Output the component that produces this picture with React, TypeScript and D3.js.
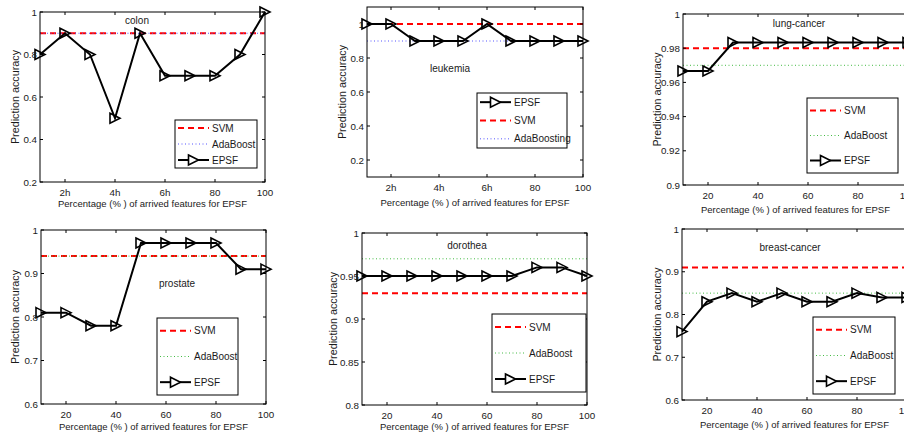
import * as d3 from "d3";

// percentage of arrived features (x positions of the EPSF points)
const xPct = [10, 20, 30, 40, 50, 60, 70, 80, 90, 100];
const xTicks = [20, 40, 60, 80, 100];
const xTickLabelsH = ["2h", "4h", "6h", "80", "100"];
const xTickLabelsN = ["20", "40", "60", "80", "100"];

const colonEPSF = [0.8, 0.9, 0.8, 0.5, 0.9, 0.7, 0.7, 0.7, 0.8, 1.0];
const leukemiaEPSF = [1.0, 1.0, 0.9, 0.9, 0.9, 1.0, 0.9, 0.9, 0.9, 0.9];
const lungEPSF = [0.9667, 0.9667, 0.9833, 0.9833, 0.9833, 0.9833, 0.9833, 0.9833, 0.9833, 0.9833];
const prostateEPSF = [0.81, 0.81, 0.78, 0.78, 0.97, 0.97, 0.97, 0.97, 0.91, 0.91];
const dorotheaEPSF = [0.95, 0.95, 0.95, 0.95, 0.95, 0.95, 0.95, 0.96, 0.96, 0.95];
const breastEPSF = [0.76, 0.83, 0.85, 0.83, 0.85, 0.83, 0.83, 0.85, 0.84, 0.84];

// colon, leukemia, lung-cancer, prostate, dorothea, breast-cancer
const svmAcc = [0.9, 1.0, 0.98, 0.94, 0.93, 0.91];
const adaAcc = [0.9, 0.9, 0.97, 0.94, 0.97, 0.85];

const yTicksColon = [0.2, 0.4, 0.6, 0.8, 1];
const yTicksLeukemia = [0.2, 0.4, 0.6, 0.8, 1];
const yTicksLung = [0.9, 0.92, 0.94, 0.96, 0.98, 1];
const yTicksProstate = [0.6, 0.7, 0.8, 0.9, 1];
const yTicksDorothea = [0.8, 0.85, 0.9, 0.95, 1];
const yTicksBreast = [0.6, 0.7, 0.8, 0.9, 1];

const FONT = "'Liberation Sans', Arial, sans-serif";
const FS = 9.8;
const RED = "#ff0000";
const BLUE = "#5555ff";
const GREEN = "#44bb44";

const panels = [
  {
    name: "colon", epsf: colonEPSF, svm: svmAcc[0], ada: adaAcc[0], adaColor: BLUE, adaLabel: "AdaBoost",
    yDomain: [0.2, 1], yTicks: yTicksColon, xLabels: xTickLabelsH,
    l: 40, t: 12, r: 265, b: 182, title: [137, 24],
    legend: { x: 175, y: 120, w: 82, h: 48, order: ["svm", "ada", "epsf"] },
    ylabX: 19, xlabY: 207,
  },
  {
    name: "leukemia", epsf: leukemiaEPSF, svm: svmAcc[1], ada: adaAcc[1], adaColor: BLUE, adaLabel: "AdaBoosting",
    yDomain: [0.1, 1.1], yTicks: yTicksLeukemia, xLabels: xTickLabelsH,
    l: 367, t: 7, r: 583, b: 177, title: [450, 72],
    legend: { x: 477, y: 93, w: 90, h: 55, order: ["epsf", "svm", "ada"] },
    ylabX: 346, xlabY: 206,
  },
  {
    name: "lung-cancer", epsf: lungEPSF, svm: svmAcc[2], ada: adaAcc[2], adaColor: GREEN, adaLabel: "AdaBoost",
    yDomain: [0.9, 1], yTicks: yTicksLung, xLabels: xTickLabelsN,
    l: 683, t: 14, r: 908, b: 185, title: [799, 27],
    legend: { x: 807, y: 98, w: 91, h: 75, order: ["svm", "ada", "epsf"] },
    ylabX: 661, xlabY: 213,
  },
  {
    name: "prostate", epsf: prostateEPSF, svm: svmAcc[3], ada: adaAcc[3], adaColor: GREEN, adaLabel: "AdaBoost",
    yDomain: [0.6, 1], yTicks: yTicksProstate, xLabels: xTickLabelsN,
    l: 41, t: 230, r: 266, b: 404, title: [177, 287],
    legend: { x: 157, y: 318, w: 81, h: 77, order: ["svm", "ada", "epsf"] },
    ylabX: 19, xlabY: 430,
  },
  {
    name: "dorothea", epsf: dorotheaEPSF, svm: svmAcc[4], ada: adaAcc[4], adaColor: GREEN, adaLabel: "AdaBoost",
    yDomain: [0.8, 1], yTicks: yTicksDorothea, xLabels: xTickLabelsN,
    l: 362, t: 233, r: 587, b: 405, title: [467, 249],
    legend: { x: 492, y: 314, w: 94, h: 78, order: ["svm", "ada", "epsf"] },
    ylabX: 337, xlabY: 430,
  },
  {
    name: "breast-cancer", epsf: breastEPSF, svm: svmAcc[5], ada: adaAcc[5], adaColor: GREEN, adaLabel: "AdaBoost",
    yDomain: [0.6, 1], yTicks: yTicksBreast, xLabels: xTickLabelsN,
    l: 682, t: 229, r: 907, b: 400, title: [790, 251],
    legend: { x: 813, y: 317, w: 82, h: 77, order: ["svm", "ada", "epsf"] },
    ylabX: 661, xlabY: 428,
  },
];

const tri = (s: number) => `M${-s / 2},${-s / 2}L${s / 2},0L${-s / 2},${s / 2}Z`;

function Panel({ p }: { p: any }) {
  const x = d3.scaleLinear().domain([10, 100]).range([p.l, p.r]);
  const y = d3.scaleLinear().domain(p.yDomain).range([p.b, p.t]);
  const line = d3.line<number>().x((_, i) => x(xPct[i])).y((d) => y(d));
  const lg = p.legend;
  const n = lg.order.length;

  return (
    <g>
      {/* reference lines */}
      <line x1={p.l} x2={p.r} y1={y(p.svm)} y2={y(p.svm)} stroke={RED} strokeWidth={2} strokeDasharray="6,4" />
      <line x1={p.l} x2={p.r} y1={y(p.ada)} y2={y(p.ada)} stroke={p.adaColor} strokeWidth={1} strokeDasharray="1,2.5" />

      <text x={p.title[0]} y={p.title[1]} textAnchor="middle" fontSize={10}>{p.name}</text>

      {/* EPSF */}
      <path d={line(p.epsf) || ""} fill="none" stroke="#000" strokeWidth={2} />
      {p.epsf.map((d: number, i: number) => (
        <path key={i} d={tri(10)} transform={`translate(${x(xPct[i])},${y(d)})`} fill="none" stroke="#000" strokeWidth={1.6} />
      ))}

      {/* axes box and inward ticks */}
      <rect x={p.l} y={p.t} width={p.r - p.l} height={p.b - p.t} fill="none" stroke="#000" strokeWidth={1} />
      {xTicks.map((t, i) => (
        <g key={t}>
          <line x1={x(t)} x2={x(t)} y1={p.b} y2={p.b - 3} stroke="#000" />
          <line x1={x(t)} x2={x(t)} y1={p.t} y2={p.t + 3} stroke="#000" />
          <text x={x(t)} y={p.b + 14} textAnchor="middle" fontSize={FS}>{p.xLabels[i]}</text>
        </g>
      ))}
      {p.yTicks.map((t: number) => (
        <g key={t}>
          <line x1={p.l} x2={p.l + 3} y1={y(t)} y2={y(t)} stroke="#000" />
          <line x1={p.r} x2={p.r - 3} y1={y(t)} y2={y(t)} stroke="#000" />
          <text x={p.l - 3} y={y(t) + 3.5} textAnchor="end" fontSize={FS}>{String(t)}</text>
        </g>
      ))}

      <text x={(p.l + p.r) / 2} y={p.xlabY} textAnchor="middle" fontSize={9.5}>
        Percentage (% ) of arrived features for EPSF
      </text>
      <text transform={`translate(${p.ylabX},${(p.t + p.b) / 2}) rotate(-90)`} textAnchor="middle" fontSize={10.8}>
        Prediction accuracy
      </text>

      {/* legend */}
      <rect x={lg.x} y={lg.y} width={lg.w} height={lg.h} fill="#fff" stroke="#000" strokeWidth={1} />
      {lg.order.map((k: string, i: number) => {
        const ly = lg.y + (lg.h * (i + 0.5)) / n;
        const x1 = lg.x + 3;
        const x2 = lg.x + 34;
        return (
          <g key={k}>
            {k === "svm" && <line x1={x1} x2={x2} y1={ly} y2={ly} stroke={RED} strokeWidth={2} strokeDasharray="6,4" />}
            {k === "ada" && <line x1={x1} x2={x2} y1={ly} y2={ly} stroke={p.adaColor} strokeWidth={1} strokeDasharray="1,2.5" />}
            {k === "epsf" && (
              <g>
                <line x1={x1} x2={x2} y1={ly} y2={ly} stroke="#000" strokeWidth={2} />
                <path d={tri(10)} transform={`translate(${(x1 + x2) / 2},${ly})`} fill="#fff" stroke="#000" strokeWidth={1.6} />
              </g>
            )}
            <text x={lg.x + 37} y={ly + 3.5} fontSize={10}>
              {k === "svm" ? "SVM" : k === "ada" ? p.adaLabel : "EPSF"}
            </text>
          </g>
        );
      })}
    </g>
  );
}

export default function App() {
  return (
    <div style={{ position: "fixed", left: 0, top: 0 }}>
      <svg width={904} height={435} style={{ display: "block", background: "#fff", fontFamily: FONT }}>
        <rect width={904} height={435} fill="#fff" />
        <g fill="#1a1a1a">
          {panels.map((p) => (
            <Panel key={p.name} p={p} />
          ))}
        </g>
      </svg>
    </div>
  );
}
